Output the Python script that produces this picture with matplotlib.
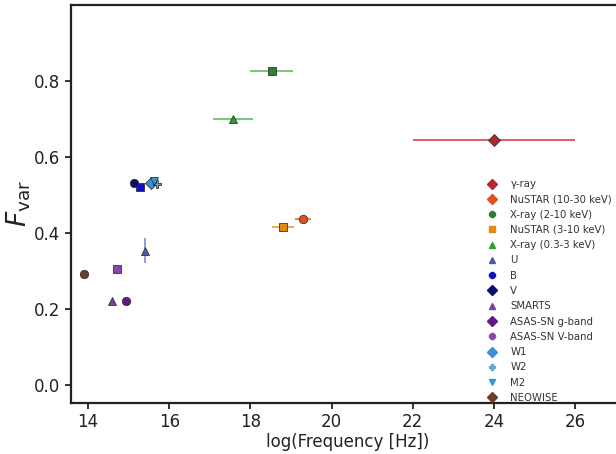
import matplotlib
matplotlib.use("Agg")
import matplotlib.pyplot as plt
from matplotlib.lines import Line2D

labels = ["γ-ray", "NuSTAR (10-30 keV)", "X-ray (2-10 keV)", "NuSTAR (3-10 keV)",
          "X-ray (0.3-3 keV)", "U", "B", "V", "SMARTS", "ASAS-SN g-band",
          "ASAS-SN V-band", "W1", "W2", "M2", "NEOWISE"]
logfreq = [24.0, 19.30, 18.53, 18.80, 17.57, 15.40, 15.28, 15.14, 14.58, 14.93,
           14.72, 15.55, 15.70, 15.63, 13.91]
fvar = [0.645, 0.436, 0.827, 0.415, 0.700, 0.354, 0.521, 0.533, 0.222, 0.222,
        0.305, 0.532, 0.530, 0.537, 0.292]
xerr = [2.0, 0.20, 0.53, 0.28, 0.49, 0.0, 0.0, 0.0, 0.0, 0.0, 0.0, 0.0, 0.0, 0.0, 0.0]
yerr = [0.0, 0.0, 0.0, 0.0, 0.0, 0.032, 0.0, 0.0, 0.0, 0.0, 0.0, 0.0, 0.0, 0.0, 0.0]

face = ["#b5262e", "#e0521f", "#2e7d32", "#e08a10", "#2ca02c", "#4a5ea8", "#0a10c8",
        "#0a0a70", "#7b3f9e", "#5e1a80", "#8e44ad", "#3a8fd8", "#5aa8dc", "#2e9bd6",
        "#6b3e26"]
ecol = ["#d9404a", "#e86a30", "#5cc05c", "#e8a030", "#5cc05c", "#8090d0", "#0a10c8",
        "#0a0a70", "#7b3f9e", "#5e1a80", "#8e44ad", "#3a8fd8", "#5aa8dc", "#2e9bd6",
        "#6b3e26"]
plot_marker = ["D", "o", "s", "s", "^", "^", "s", "o", "^", "o", "s", "D", "P", "v", "o"]
leg_marker = ["D", "D", "8", "s", "^", "^", "8", "D", "^", "D", "8", "D", "P", "v", "D"]

fig = plt.figure(figsize=(6.16, 4.54), dpi=100)
ax = fig.add_axes([71/616, 51/454, 553/616, 398/454])

for i in range(len(labels)):
    ax.errorbar(logfreq[i], fvar[i],
                xerr=xerr[i] if xerr[i] > 0 else None,
                yerr=yerr[i] if yerr[i] > 0 else None,
                fmt=plot_marker[i], color=ecol[i], mfc=face[i], mec="#333333",
                mew=0.6, ms=6, elinewidth=1.2, capsize=0, zorder=3)

ax.set_xlim(13.58, 27.2)
ax.set_ylim(-0.047, 1.0)
ax.set_xticks([14, 16, 18, 20, 22, 24, 26])
ax.set_yticks([0.0, 0.2, 0.4, 0.6, 0.8])
ax.set_xlabel("log(Frequency [Hz])", fontsize=12, color="#222222", labelpad=1)
ax.set_ylabel(r"$F_{\rm var}$", fontsize=19, color="#222222", labelpad=1)
ax.tick_params(labelsize=12, colors="#222222", width=1.3, length=4)
for s in ax.spines.values():
    s.set_linewidth(1.6)
    s.set_color("#222222")

handles = [Line2D([], [], ls="none", marker=leg_marker[i], mfc=face[i],
                  mec=face[i], ms=5) for i in range(len(labels))]
fig.legend(handles, labels, loc="upper left", bbox_to_anchor=(482/616, 1 - 175/454),
           frameon=False, fontsize=7.3, handlelength=1.2, handletextpad=1.2,
           labelspacing=0.52, borderaxespad=0, labelcolor="#333333")

fig.savefig("out.png", dpi=100)
